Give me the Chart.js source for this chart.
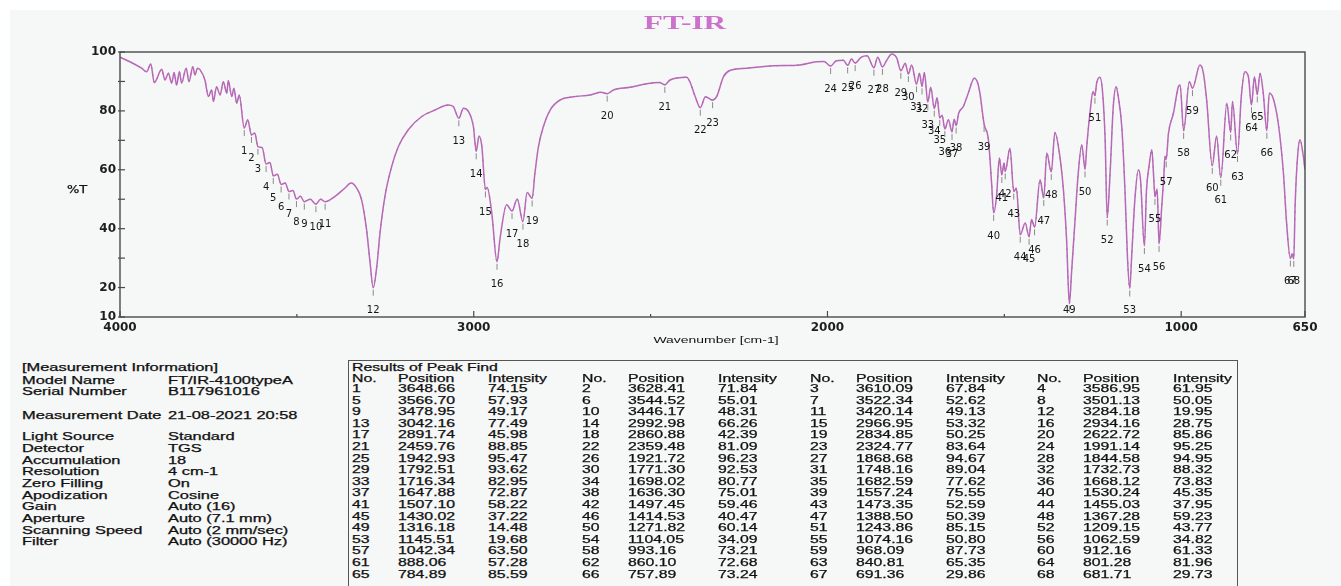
<!DOCTYPE html>
<html>
<head>
<meta charset="utf-8">
<title>FT-IR</title>
<script src="https://cdn.jsdelivr.net/npm/chart.js@4.4.0/dist/chart.umd.min.js"></script>
<style>
  html, body { margin: 0; padding: 0; background: #fff; }
  #page { position: relative; width: 1341px; height: 586px; overflow: hidden; background: #fff; }
  #paper { position: absolute; left: 10px; top: 10px; right: 0; bottom: 0; background: #f6f7f7; }
  #chart { position: absolute; left: 0; top: 0; }
  .txt {
    position: absolute; white-space: nowrap;
    font-family: "Liberation Sans", Arial, sans-serif; font-size: 10px; line-height: 10px;
    color: #111; -webkit-text-stroke: 0.25px #111;
    transform: scaleX(1.58); transform-origin: 0 50%;
  }
  .wide { transform: scaleX(1.64); }
  .center { transform-origin: 50% 50%; }
  #title {
    position: absolute; left: 685px; top: 12px; white-space: nowrap;
    font-family: "Liberation Serif", "Times New Roman", serif; font-weight: bold; font-size: 19px; line-height: 22px;
    color: #cc72cc; transform: translateX(-50%) scaleX(1.65);
  }
  #peakBox { position: absolute; left: 348px; top: 360px; width: 888px; height: 240px; border: 1px solid #555; border-bottom: none; }
</style>
</head>
<body>
<div id="page">
  <div id="paper"></div>
  <canvas id="chart" width="1341" height="350"></canvas>
  <div id="title">FT-IR</div>
  <div class="txt" style="left:67px; top:185px; font-family:'DejaVu Sans'; transform:scaleX(1.3);">%T</div>
  <div class="txt center" style="left:716px; top:335px; font-size:9px; -webkit-text-stroke:0; transform:translateX(-50%) scaleX(1.55);">Wavenumber [cm-1]</div>
  <div id="peakBox"></div>
  <div id="tables"></div>
</div>
<script>
// Spectrum trace (points between the detected peaks)
const traceWavenumber = [
  4000, 3972, 3939, 3925, 3913, 3903, 3882, 3873, 3863, 3854, 3847, 3840, 3832, 3826, 3813, 3805,
  3794, 3788, 3781, 3774, 3760, 3750, 3741, 3736, 3727, 3717, 3708, 3698, 3694, 3684, 3678, 3670,
  3663, 3639, 3619, 3598, 3576, 3555, 3533, 3511, 3490, 3462, 3433,
  3392, 3364, 3347, 3331, 3317, 3303, 3293, 3274, 3265, 3251, 3232, 3213, 3185, 3147, 3109, 3072, 3058,
  3029, 3015, 3001, 2985, 2977, 2962, 2949, 2926, 2907, 2877, 2849,
  2827, 2817, 2803, 2784, 2756, 2718, 2671, 2640, 2605, 2558, 2511, 2475, 2445, 2398, 2389, 2374,
  2345, 2313, 2294, 2276, 2228, 2153, 2078, 2031, 2010, 1975, 1955, 1932, 1905, 1888, 1858,
  1832, 1818, 1804, 1780, 1762, 1740, 1726, 1708, 1690, 1676, 1658, 1642,
  1629, 1616, 1602, 1585, 1575, 1569, 1545, 1536, 1522, 1514, 1501, 1484, 1466, 1441, 1423, 1399, 1380,
  1357, 1343, 1333, 1324, 1310, 1300, 1291, 1281, 1267, 1258, 1249, 1239, 1230, 1222, 1215,
  1201, 1192, 1184, 1178, 1168, 1159, 1152, 1140, 1131, 1121, 1115, 1098, 1091, 1083, 1078,
  1068, 1055, 1049, 1046, 1036, 1022, 1008, 1003, 977, 947, 938, 928, 900, 871, 855,
  830, 820, 810, 793, 777, 768, 751, 740, 725, 711, 702, 686.5, 678, 671, 664, 656, 650
];
const traceTransmittance = [
  98.2, 96.7, 94.5, 93.3, 95.9, 89.6, 94.1, 90.5, 92.8, 89.4, 93.0, 88.8, 93.3, 89.4, 94.5, 89.9,
  95.0, 92.2, 94.5, 94.0, 90.5, 84.9, 87.1, 83.2, 88.2, 85.4, 89.9, 86.0, 90.3, 84.9, 87.7, 82.6,
  85.4, 77.0, 72.5, 67.5, 62.5, 58.5, 55.5, 53.0, 51.0, 50.0, 50.0,
  51.0, 53.8, 55.5, 53.8, 49.8, 39.7, 28.4, 27.2, 38.5, 51.0, 61.1, 67.9, 73.6, 78.1, 80.3, 82.0, 81.5,
  80.9, 79.8, 74.7, 71.5, 67.9, 54.0, 45.3, 36.3, 48.1, 50.1, 52.3,
  58.9, 67.9, 74.7, 80.3, 83.7, 84.8, 85.4, 86.3, 87.1, 88.0, 89.2, 89.6, 90.5, 91.4, 89.9, 84.9,
  84.8, 84.9, 91.6, 93.7, 94.5, 95.3, 95.6, 96.7, 96.8, 97.0, 97.2, 97.6, 98.2, 98.7, 98.2,
  97.3, 99.3, 97.9, 96.2, 95.6, 92.8, 93.0, 88.0, 84.5, 78.5, 77.0, 77.2,
  79.2, 81.5, 86.0, 91.1, 89.4, 86.0, 70.2, 55.5, 51.0, 64.0, 62.3, 67.3, 53.8, 41.9, 43.1, 56.6, 65.7,
  72.7, 64.5, 53.2, 36.3, 25.0, 43.1, 58.9, 68.5, 67.9, 79.2, 86.6, 89.4, 91.4, 86.0, 70.2,
  58.9, 81.5, 88.2, 84.9, 74.7, 53.2, 30.6, 30.6, 49.8, 60.0, 56.6, 53.2, 61.1, 66.8, 58.0,
  53.5, 47.6, 58.0, 64.6, 72.4, 79.2, 88.2, 88.8, 89.9, 95.6, 93.3, 83.7, 71.5, 82.6, 83.2,
  85.0, 93.3, 91.6, 91.6, 92.8, 86.0, 86.0, 84.3, 75.3, 58.9, 41.9, 31.5, 47.6, 64.5, 70.2, 65.7, 60.0
];

// Results of Peak Find
const peakNo = Array.from({ length: 68 }, (_, i) => i + 1);
const peakPosition = [
  3648.66, 3628.41, 3610.09, 3586.95, 3566.70, 3544.52, 3522.34, 3501.13, 3478.95, 3446.17, 3420.14, 3284.18,
  3042.16, 2992.98, 2966.95, 2934.16, 2891.74, 2860.88, 2834.85, 2622.72, 2459.76, 2359.48, 2324.77, 1991.14,
  1942.93, 1921.72, 1868.68, 1844.58, 1792.51, 1771.30, 1748.16, 1732.73, 1716.34, 1698.02, 1682.59, 1668.12,
  1647.88, 1636.30, 1557.24, 1530.24, 1507.10, 1497.45, 1473.35, 1455.03, 1430.02, 1414.53, 1388.50, 1367.28,
  1316.18, 1271.82, 1243.86, 1209.15, 1145.51, 1104.05, 1074.16, 1062.59, 1042.34, 993.16, 968.09, 912.16,
  888.06, 860.10, 840.81, 801.28, 784.89, 757.89, 691.36, 681.71
];
const peakIntensity = [
  74.15, 71.84, 67.84, 61.95, 57.93, 55.01, 52.62, 50.05, 49.17, 48.31, 49.13, 19.95,
  77.49, 66.26, 53.32, 28.75, 45.98, 42.39, 50.25, 85.86, 88.85, 81.09, 83.64, 95.25,
  95.47, 96.23, 94.67, 94.95, 93.62, 92.53, 89.04, 88.32, 82.95, 80.77, 77.62, 73.83,
  72.87, 75.01, 75.55, 45.35, 58.22, 59.46, 52.59, 37.95, 37.22, 40.47, 50.39, 59.23,
  14.48, 60.14, 85.15, 43.77, 19.68, 34.09, 50.80, 34.82, 63.50, 73.21, 87.73, 61.33,
  57.28, 72.68, 65.35, 81.96, 85.59, 73.24, 29.86, 29.73
];

// Axis ticks
const xTickValues = [4000, 3500, 3000, 2500, 2000, 1500, 1000, 650];
const xTickLabels = [4000, 3000, 2000, 1000, 650];
const yTickValues = [10, 20, 30, 40, 50, 60, 70, 80, 90, 100];
const yTickLabels = [10, 20, 40, 60, 80, 100];

// Measurement information
const infoTitle = '[Measurement Information]';
const infoLabels = ['Model Name', 'Serial Number', 'Measurement Date', 'Light Source', 'Detector', 'Accumulation',
  'Resolution', 'Zero Filling', 'Apodization', 'Gain', 'Aperture', 'Scanning Speed', 'Filter'];
const infoValues = ['FT/IR-4100typeA', 'B117961016', '21-08-2021 20:58', 'Standard', 'TGS', '18',
  '4 cm-1', 'On', 'Cosine', 'Auto (16)', 'Auto (7.1 mm)', 'Auto (2 mm/sec)', 'Auto (30000 Hz)'];

// Build spectrum: trace points plus peak minima, high to low wavenumber
function buildSpectrum() {
  const pts = traceWavenumber.map((w, i) => ({ x: w, y: traceTransmittance[i] }));
  peakPosition.forEach((w, i) => pts.push({ x: w, y: peakIntensity[i] }));
  return pts.sort((a, b) => b.x - a.x);
}

// Frame, inward ticks, peak markers and numbers
const framePlugin = {
  id: 'frame',
  afterDatasetsDraw(chart) {
    const { ctx, chartArea: a, scales } = chart;
    const x = scales.x, y = scales.y;
    ctx.save();
    ctx.strokeStyle = '#4a4a4a';
    ctx.lineWidth = 1.4;
    ctx.strokeRect(a.left, a.top, a.right - a.left, a.bottom - a.top);

    ctx.lineWidth = 1.2;
    yTickValues.forEach(v => {
      const py = y.getPixelForValue(v);
      ctx.beginPath(); ctx.moveTo(a.left - 2, py); ctx.lineTo(a.left + 5, py); ctx.stroke();
    });
    xTickValues.forEach(v => {
      const px = x.getPixelForValue(v);
      const len = xTickLabels.includes(v) ? 6 : 3;
      ctx.beginPath(); ctx.moveTo(px, a.bottom); ctx.lineTo(px, a.bottom - len); ctx.stroke();
    });

    ctx.font = '10px "DejaVu Sans"';
    ctx.textAlign = 'center';
    ctx.textBaseline = 'middle';
    peakPosition.forEach((w, i) => {
      const px = x.getPixelForValue(w);
      const py = y.getPixelForValue(peakIntensity[i]);
      ctx.strokeStyle = '#8a8a8a';
      ctx.lineWidth = 1;
      ctx.beginPath(); ctx.moveTo(px, py + 2); ctx.lineTo(px, py + 8); ctx.stroke();
      ctx.fillStyle = '#151515';
      ctx.fillText(String(peakNo[i]), px, Math.min(py + 23, a.bottom - 7));
    });
    ctx.restore();
  }
};

function createSpectrumChart() {
  const spectrum = buildSpectrum();
  const tickFont = { family: 'DejaVu Sans', weight: 'bold', size: 12 };
  return new Chart(document.getElementById('chart'), {
    type: 'line',
    data: {
      datasets: [
        { data: spectrum, borderColor: '#b868b8', borderWidth: 1.5, pointRadius: 0, cubicInterpolationMode: 'monotone', fill: false },
        { data: spectrum, borderColor: 'rgba(45,30,45,0.6)', borderWidth: 1, borderDash: [2, 5], pointRadius: 0, cubicInterpolationMode: 'monotone', fill: false }
      ]
    },
    options: {
      responsive: false,
      animation: false,
      devicePixelRatio: 1,
      layout: { padding: { top: 52, right: 36, left: 0, bottom: 0 } },
      plugins: { legend: { display: false }, tooltip: { enabled: false }, title: { display: false } },
      scales: {
        x: {
          type: 'linear', reverse: true, min: 650, max: 4000,
          afterBuildTicks: s => { s.ticks = xTickValues.map(v => ({ value: v })); },
          afterFit: s => { s.height = 33; },
          grid: { display: false, drawTicks: false },
          border: { display: false },
          ticks: {
            autoSkip: false, maxRotation: 0, padding: 4, color: '#1e1e1e', font: tickFont,
            callback: v => xTickLabels.includes(v) ? String(v) : ''
          }
        },
        y: {
          min: 10, max: 100,
          afterBuildTicks: s => { s.ticks = yTickValues.map(v => ({ value: v })); },
          afterFit: s => { s.width = 120; },
          grid: { display: false, drawTicks: false },
          border: { display: false },
          ticks: {
            autoSkip: false, padding: 4, color: '#1e1e1e', font: tickFont,
            callback: v => yTickLabels.includes(v) ? String(v) : ''
          }
        }
      }
    },
    plugins: [framePlugin]
  });
}

// Text helpers
function addText(parent, text, left, top, cls) {
  const el = document.createElement('div');
  el.className = cls ? 'txt ' + cls : 'txt';
  el.textContent = text;
  el.style.left = left + 'px';
  el.style.top = (top - 5) + 'px';
  parent.appendChild(el);
}

function buildInfoBlock(parent) {
  const rowY = [381, 392, 416, 437, 449, 461, 472, 484, 496, 507, 519, 531, 542];
  addText(parent, infoTitle, 22, 368, 'wide');
  infoLabels.forEach((label, i) => {
    addText(parent, label, 22, rowY[i], 'wide');
    addText(parent, infoValues[i], 168, rowY[i], 'wide');
  });
}

function buildPeakTable(parent) {
  const groupX = [352, 582, 810, 1037];
  const posOff = 46, intOff = 136;
  addText(parent, 'Results of Peak Find', 352, 368);
  groupX.forEach(gx => {
    addText(parent, 'No.', gx, 379);
    addText(parent, 'Position', gx + posOff, 379);
    addText(parent, 'Intensity', gx + intOff, 379);
  });
  peakNo.forEach((n, i) => {
    const row = Math.floor(i / 4), gx = groupX[i % 4];
    const ty = 389 + row * 11.6;
    addText(parent, String(n), gx, ty);
    addText(parent, peakPosition[i].toFixed(2), gx + posOff, ty);
    addText(parent, peakIntensity[i].toFixed(2), gx + intOff, ty);
  });
}

createSpectrumChart();
const tables = document.getElementById('tables');
buildInfoBlock(tables);
buildPeakTable(tables);
</script>
</body>
</html>
